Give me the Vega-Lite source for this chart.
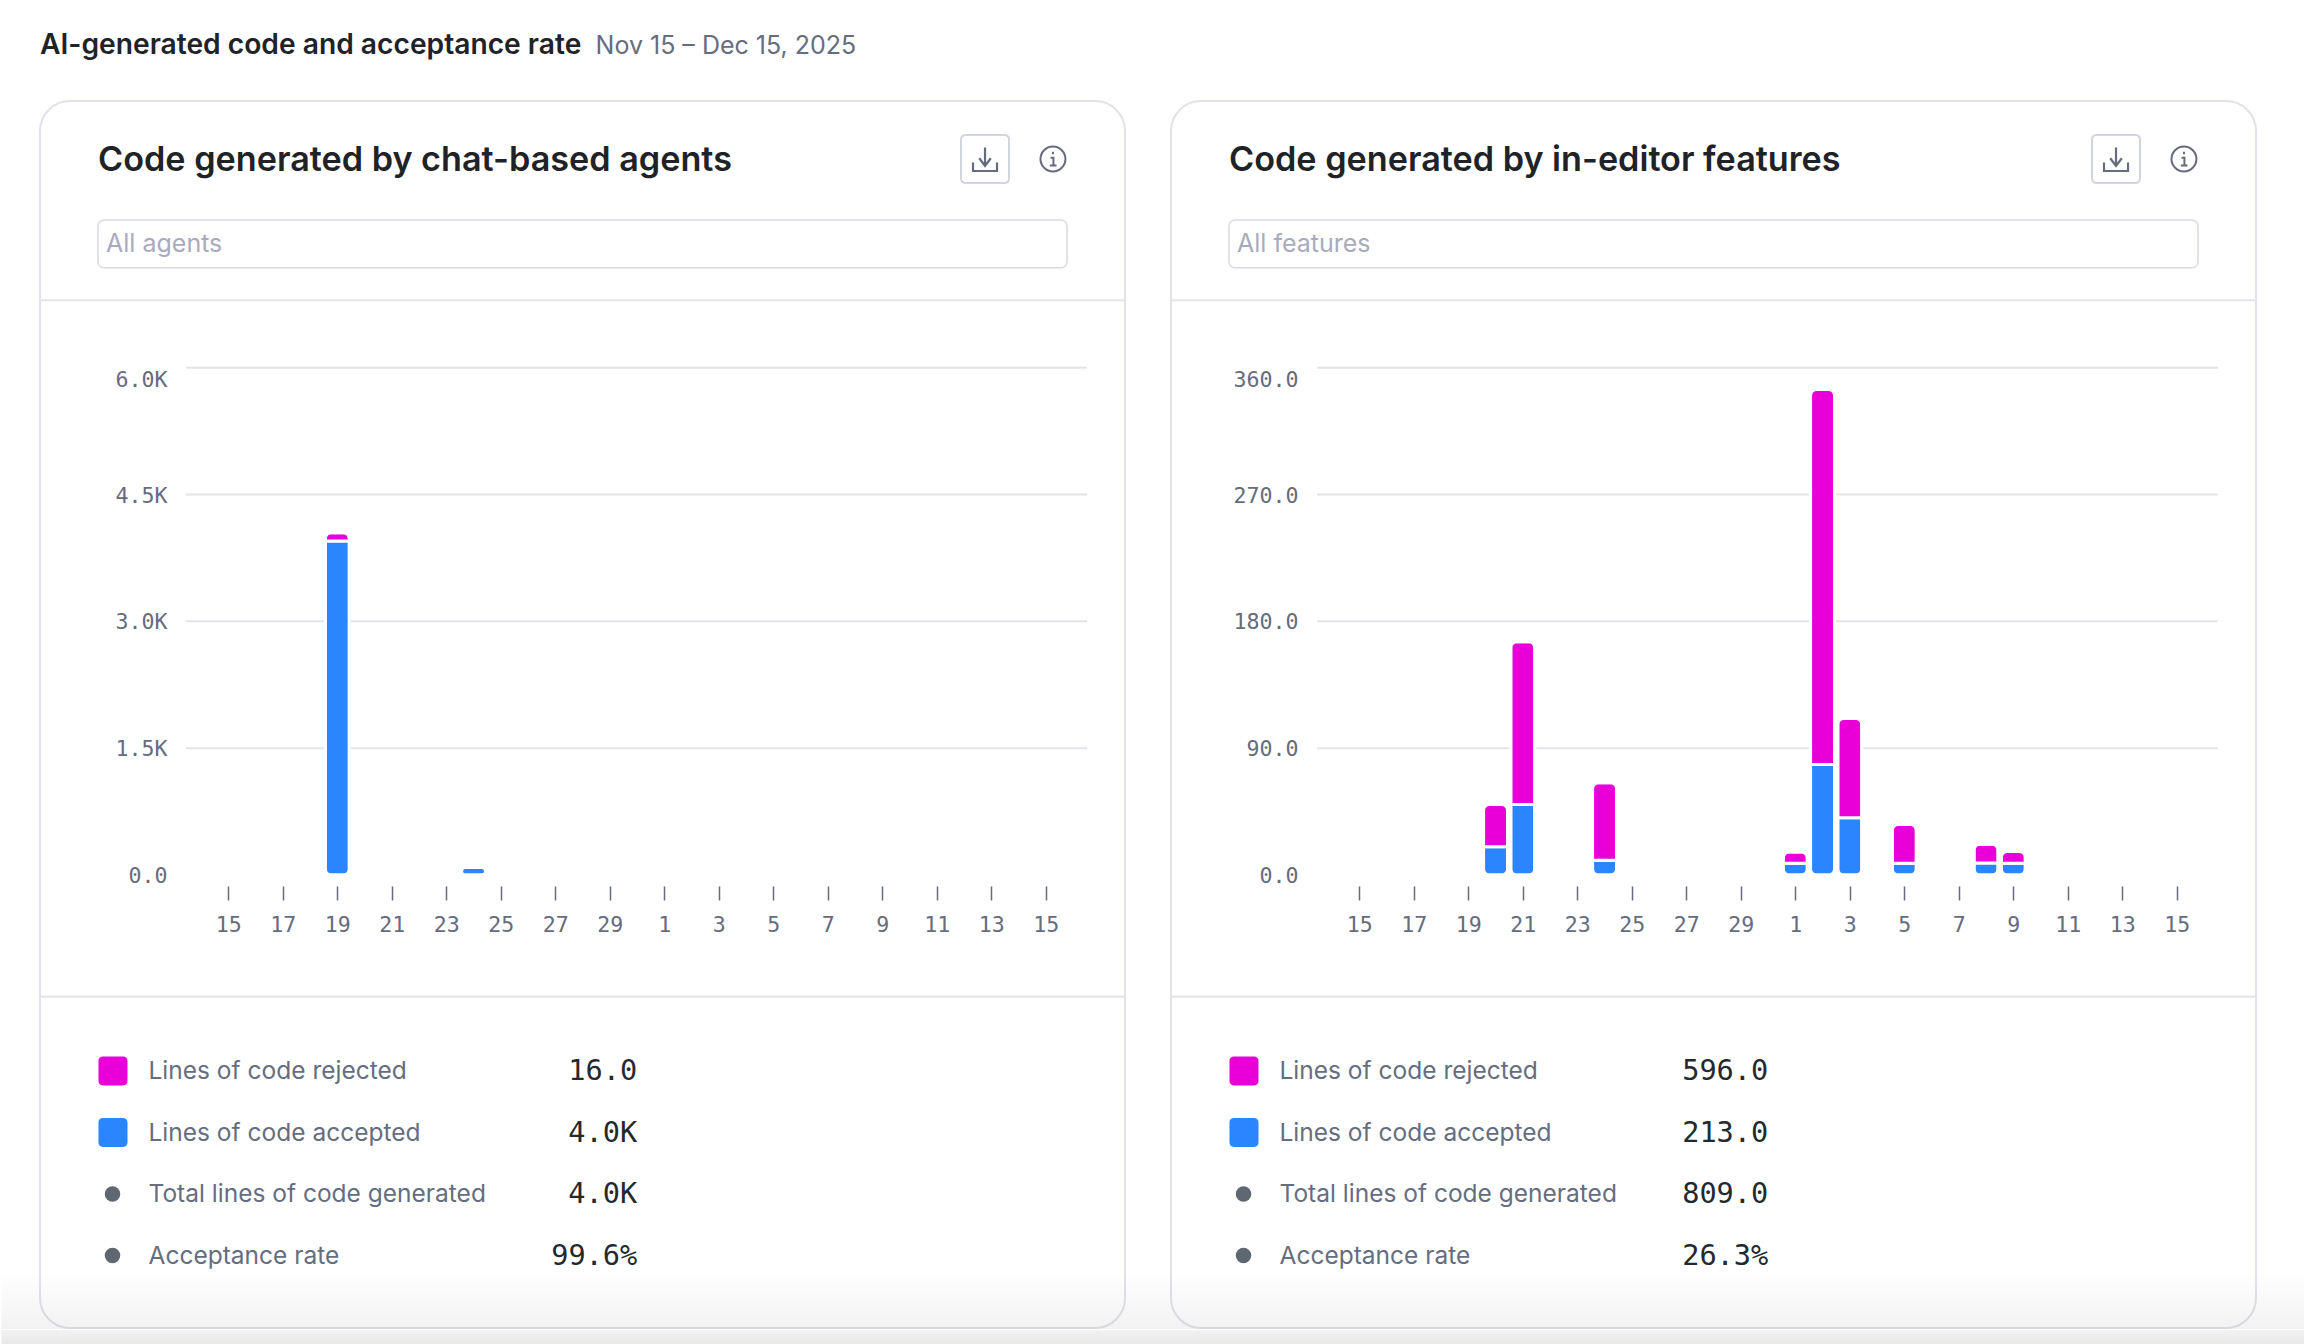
{"$schema":"https://vega.github.io/schema/vega-lite/v6.json","padding":0,"background":"#ffffff","config":{"font":"Inter","view":{"stroke":null}},"datasets":{"grid1":[{"value":6000,"from":"2025-11-13T10:48:00Z","to":"2025-12-16T12:14:00Z"},{"value":4500,"from":"2025-11-13T10:48:00Z","to":"2025-12-16T12:14:00Z"},{"value":3000,"from":"2025-11-13T10:48:00Z","to":"2025-12-16T12:14:00Z"},{"value":1500,"from":"2025-11-13T10:48:00Z","to":"2025-12-16T12:14:00Z"}],"grid2":[{"value":360,"from":"2025-11-13T10:48:00Z","to":"2025-12-16T12:14:00Z"},{"value":270,"from":"2025-11-13T10:48:00Z","to":"2025-12-16T12:14:00Z"},{"value":180,"from":"2025-11-13T10:48:00Z","to":"2025-12-16T12:14:00Z"},{"value":90,"from":"2025-11-13T10:48:00Z","to":"2025-12-16T12:14:00Z"}],"bars1":[{"date":"2025-11-19T00:00:00Z","series":"Lines of code accepted","lines":3950},{"date":"2025-11-19T00:00:00Z","series":"Lines of code rejected","lines":98},{"date":"2025-11-24T00:00:00Z","series":"Lines of code accepted","lines":89}],"bars2":[{"date":"2025-11-20T00:00:00Z","series":"Lines of code accepted","lines":20},{"date":"2025-11-20T00:00:00Z","series":"Lines of code rejected","lines":30},{"date":"2025-11-21T00:00:00Z","series":"Lines of code accepted","lines":50},{"date":"2025-11-21T00:00:00Z","series":"Lines of code rejected","lines":115.5},{"date":"2025-11-24T00:00:00Z","series":"Lines of code accepted","lines":10.5},{"date":"2025-11-24T00:00:00Z","series":"Lines of code rejected","lines":55},{"date":"2025-12-01T00:00:00Z","series":"Lines of code accepted","lines":8.3},{"date":"2025-12-01T00:00:00Z","series":"Lines of code rejected","lines":8},{"date":"2025-12-02T00:00:00Z","series":"Lines of code accepted","lines":78.5},{"date":"2025-12-02T00:00:00Z","series":"Lines of code rejected","lines":266},{"date":"2025-12-03T00:00:00Z","series":"Lines of code accepted","lines":40.6},{"date":"2025-12-03T00:00:00Z","series":"Lines of code rejected","lines":70.5},{"date":"2025-12-05T00:00:00Z","series":"Lines of code accepted","lines":8.3},{"date":"2025-12-05T00:00:00Z","series":"Lines of code rejected","lines":27.5},{"date":"2025-12-08T00:00:00Z","series":"Lines of code accepted","lines":8.5},{"date":"2025-12-08T00:00:00Z","series":"Lines of code rejected","lines":13.4},{"date":"2025-12-09T00:00:00Z","series":"Lines of code accepted","lines":8.3},{"date":"2025-12-09T00:00:00Z","series":"Lines of code rejected","lines":8.4}],"table1":[{"row":1,"series":"Lines of code rejected","shown":"16.0"},{"row":2,"series":"Lines of code accepted","shown":"4.0K"},{"row":3,"series":"Total lines of code generated","shown":"4.0K"},{"row":4,"series":"Acceptance rate","shown":"99.6%"}],"table2":[{"row":1,"series":"Lines of code rejected","shown":"596.0"},{"row":2,"series":"Lines of code accepted","shown":"213.0"},{"row":3,"series":"Total lines of code generated","shown":"809.0"},{"row":4,"series":"Acceptance rate","shown":"26.3%"}]},"spacing":0,"vconcat":[{"width":2224,"height":100,"data":{"values":[{"heading":"AI-generated code and acceptance rate","period":"Nov 15 – Dec 15, 2025"}]},"layer":[{"mark":{"type":"text","align":"left","baseline":"middle","fontSize":28.2,"fontWeight":600,"color":"#1f2328"},"encoding":{"text":{"field":"heading"},"x":{"datum":0,"type":"quantitative","scale":{"domain":[0,1],"range":[0,2224]},"axis":null},"y":{"datum":0.455,"type":"quantitative","scale":{"domain":[0,1],"range":[0,100]},"axis":null}}},{"mark":{"type":"text","align":"left","baseline":"middle","fontSize":25,"fontWeight":400,"color":"#656d80"},"encoding":{"text":{"field":"period"},"x":{"datum":0.2498,"type":"quantitative","scale":{"domain":[0,1],"range":[0,2224]},"axis":null},"y":{"datum":0.455,"type":"quantitative","scale":{"domain":[0,1],"range":[0,100]},"axis":null}}}]},{"spacing":46,"bounds":"flush","hconcat":[{"width":1085,"height":1227,"view":{"stroke":"#e2e3ea","strokeWidth":2,"cornerRadius":30,"fill":"#ffffff"},"resolve":{"scale":{"x":"independent","y":"independent","color":"independent"}},"layer":[{"layer":[{"data":{"name":"grid1"},"mark":{"type":"rule","color":"#e3e4ea","strokeWidth":2},"encoding":{"y":{"field":"value","type":"quantitative","scale":{"domain":[0,6000],"range":[774,266.7],"nice":false},"axis":{"values":[0,1500,3000,4500,6000],"labelExpr":"datum.value === 0 ? '0.0' : format(datum.value / 1000, '.1f') + 'K'","title":null,"domain":false,"ticks":false,"grid":false,"offset":-127,"labelPadding":0,"labelOffset":1.5,"labelFont":"DejaVu Sans Mono","labelFontSize":21.6,"labelColor":"#666b7d","labelOverlap":false,"labelFlush":false,"labelBaseline":{"condition":{"test":"datum.value === 6000","value":"top"},"value":"middle"}}},"x":{"field":"from","type":"temporal","scale":{"type":"utc","domain":["2025-11-15T00:00:00Z","2025-12-15T00:00:00Z"],"range":[188.3,1005.8],"nice":false,"padding":0},"axis":{"values":["2025-11-15T00:00:00Z","2025-11-17T00:00:00Z","2025-11-19T00:00:00Z","2025-11-21T00:00:00Z","2025-11-23T00:00:00Z","2025-11-25T00:00:00Z","2025-11-27T00:00:00Z","2025-11-29T00:00:00Z","2025-12-01T00:00:00Z","2025-12-03T00:00:00Z","2025-12-05T00:00:00Z","2025-12-07T00:00:00Z","2025-12-09T00:00:00Z","2025-12-11T00:00:00Z","2025-12-13T00:00:00Z","2025-12-15T00:00:00Z"],"format":"%-d","title":null,"domain":false,"grid":false,"offset":-442,"tickSize":14,"tickWidth":1.5,"tickColor":"#666b7d","labelFont":"DejaVu Sans Mono","labelFontSize":21.6,"labelColor":"#666b7d","labelPadding":14,"labelOverlap":false,"labelFlush":false}},"x2":{"field":"to"}}},{"data":{"name":"bars1"},"mark":{"type":"bar","size":24,"cornerRadius":6,"stroke":"#ffffff","strokeWidth":3},"encoding":{"x":{"field":"date","type":"temporal"},"y":{"field":"lines","type":"quantitative","stack":"zero"},"color":{"field":"series","type":"nominal","legend":null,"scale":{"domain":["Lines of code rejected","Lines of code accepted"],"range":["#e900d8","#2b85ff"]}},"order":{"field":"series","type":"nominal"}}}]},{"data":{"values":[{"cardTitle":"Code generated by chat-based agents","filter":"All agents"}]},"layer":[{"mark":{"type":"text","align":"left","baseline":"middle","fontSize":34.2,"fontWeight":600,"color":"#1f2328"},"encoding":{"text":{"field":"cardTitle"},"x":{"datum":0,"type":"quantitative","scale":{"domain":[0,1],"range":[58,1027]},"axis":null},"y":{"datum":0.0485,"type":"quantitative","scale":{"domain":[0,1],"range":[0,1227]},"axis":null}}},{"mark":{"type":"rect","fill":"#ffffff","stroke":"#d9dae2","strokeWidth":1.5,"cornerRadius":6},"encoding":{"x":{"datum":0,"type":"quantitative"},"x2":{"datum":1},"y":{"datum":0.09698,"type":"quantitative"},"y2":{"datum":0.13586}}},{"mark":{"type":"text","align":"left","baseline":"middle","fontSize":25,"color":"#a9abbd"},"encoding":{"text":{"field":"filter"},"x":{"datum":0.0083,"type":"quantitative"},"y":{"datum":0.11654,"type":"quantitative"}}},{"mark":{"type":"rule","color":"#e3e4ea","strokeWidth":2},"encoding":{"y":{"datum":0.16243,"type":"quantitative"}}},{"mark":{"type":"rule","color":"#e3e4ea","strokeWidth":2},"encoding":{"y":{"datum":0.72999,"type":"quantitative"}}},{"mark":{"type":"point","filled":false,"size":2304,"opacity":1,"stroke":"#d3d5de","strokeWidth":2,"shape":"M-0.8,-1 H0.8 Q1,-1 1,-0.8 V0.8 Q1,1 0.8,1 H-0.8 Q-1,1 -1,0.8 V-0.8 Q-1,-1 -0.8,-1 Z"},"encoding":{"x":{"datum":0.9154,"type":"quantitative"},"y":{"datum":0.04727,"type":"quantitative"}}},{"mark":{"type":"point","filled":false,"size":2304,"opacity":1,"stroke":"#666b7d","strokeWidth":2.2,"shape":"M0,-0.48 V0.29 M-0.24,-0.03 L0,0.29 L0.24,-0.03 M-0.5,0.15 V0.5 H0.5 V0.15"},"encoding":{"x":{"datum":0.9154,"type":"quantitative"},"y":{"datum":0.04727,"type":"quantitative"}}},{"mark":{"type":"point","filled":false,"size":2304,"opacity":1,"stroke":"#666b7d","strokeWidth":2,"shape":"M-0.52,0 A0.52,0.52 0 1 0 0.52,0 A0.52,0.52 0 1 0 -0.52,0 Z M0,-0.3 V-0.2 M-0.1,-0.05 H0.02 V0.27 M-0.13,0.27 H0.15"},"encoding":{"x":{"datum":0.9855,"type":"quantitative"},"y":{"datum":0.04727,"type":"quantitative"}}}]},{"data":{"name":"table1"},"layer":[{"transform":[{"filter":"datum.row <= 2"}],"mark":{"type":"point","filled":true,"opacity":1,"size":841,"shape":"M-0.68,-1 H0.68 Q1,-1 1,-0.68 V0.68 Q1,1 0.68,1 H-0.68 Q-1,1 -1,0.68 V-0.68 Q-1,-1 -0.68,-1 Z"},"encoding":{"x":{"datum":74,"type":"quantitative","scale":{"domain":[0,1085],"range":[0,1085]},"axis":null},"y":{"field":"row","type":"quantitative","scale":{"domain":[1,4],"range":[970,1154.5],"nice":false,"zero":false},"axis":null},"color":{"field":"series","type":"nominal","legend":null,"scale":{"domain":["Lines of code rejected","Lines of code accepted"],"range":["#e900d8","#2b85ff"]}}}},{"transform":[{"filter":"datum.row > 2"}],"mark":{"type":"point","filled":true,"opacity":1,"size":240,"shape":"circle","color":"#5f6870"},"encoding":{"x":{"datum":73.5,"type":"quantitative"},"y":{"field":"row","type":"quantitative"}}},{"mark":{"type":"text","align":"left","baseline":"middle","fontSize":24.5,"dy":1,"color":"#656d80"},"encoding":{"text":{"field":"series"},"x":{"datum":110,"type":"quantitative"},"y":{"field":"row","type":"quantitative"}}},{"mark":{"type":"text","align":"right","baseline":"middle","font":"DejaVu Sans Mono","fontSize":28.6,"color":"#24292f"},"encoding":{"text":{"field":"shown"},"x":{"datum":605.5,"type":"quantitative"},"y":{"field":"row","type":"quantitative"}}}]},{"data":{"values":[{"overlay":"page fade"}]},"mark":{"type":"rect","fill":{"gradient":"linear","x1":0,"y1":0,"x2":0,"y2":1,"stops":[{"offset":0,"color":"rgba(0,0,0,0)"},{"offset":1,"color":"rgba(0,0,0,0.05)"}]}},"encoding":{"x":{"datum":0,"type":"quantitative","scale":{"domain":[0,1],"range":[-38.5,1108]},"axis":null},"x2":{"datum":1},"y":{"datum":0,"type":"quantitative","scale":{"domain":[0,1],"range":[1170,1228]},"axis":null},"y2":{"datum":1}}}]},{"width":1085,"height":1227,"view":{"stroke":"#e2e3ea","strokeWidth":2,"cornerRadius":30,"fill":"#ffffff"},"resolve":{"scale":{"x":"independent","y":"independent","color":"independent"}},"layer":[{"layer":[{"data":{"name":"grid2"},"mark":{"type":"rule","color":"#e3e4ea","strokeWidth":2},"encoding":{"y":{"field":"value","type":"quantitative","scale":{"domain":[0,360],"range":[774,266.7],"nice":false},"axis":{"values":[0,90,180,270,360],"format":".1f","title":null,"domain":false,"ticks":false,"grid":false,"offset":-127,"labelPadding":0,"labelOffset":1.5,"labelFont":"DejaVu Sans Mono","labelFontSize":21.6,"labelColor":"#666b7d","labelOverlap":false,"labelFlush":false,"labelBaseline":{"condition":{"test":"datum.value === 360","value":"top"},"value":"middle"}}},"x":{"field":"from","type":"temporal","scale":{"type":"utc","domain":["2025-11-15T00:00:00Z","2025-12-15T00:00:00Z"],"range":[188.3,1005.8],"nice":false,"padding":0},"axis":{"values":["2025-11-15T00:00:00Z","2025-11-17T00:00:00Z","2025-11-19T00:00:00Z","2025-11-21T00:00:00Z","2025-11-23T00:00:00Z","2025-11-25T00:00:00Z","2025-11-27T00:00:00Z","2025-11-29T00:00:00Z","2025-12-01T00:00:00Z","2025-12-03T00:00:00Z","2025-12-05T00:00:00Z","2025-12-07T00:00:00Z","2025-12-09T00:00:00Z","2025-12-11T00:00:00Z","2025-12-13T00:00:00Z","2025-12-15T00:00:00Z"],"format":"%-d","title":null,"domain":false,"grid":false,"offset":-442,"tickSize":14,"tickWidth":1.5,"tickColor":"#666b7d","labelFont":"DejaVu Sans Mono","labelFontSize":21.6,"labelColor":"#666b7d","labelPadding":14,"labelOverlap":false,"labelFlush":false}},"x2":{"field":"to"}}},{"data":{"name":"bars2"},"mark":{"type":"bar","size":24,"cornerRadius":6,"stroke":"#ffffff","strokeWidth":3},"encoding":{"x":{"field":"date","type":"temporal"},"y":{"field":"lines","type":"quantitative","stack":"zero"},"color":{"field":"series","type":"nominal","legend":null,"scale":{"domain":["Lines of code rejected","Lines of code accepted"],"range":["#e900d8","#2b85ff"]}},"order":{"field":"series","type":"nominal"}}}]},{"data":{"values":[{"cardTitle":"Code generated by in-editor features","filter":"All features"}]},"layer":[{"mark":{"type":"text","align":"left","baseline":"middle","fontSize":34.2,"fontWeight":600,"color":"#1f2328"},"encoding":{"text":{"field":"cardTitle"},"x":{"datum":0,"type":"quantitative","scale":{"domain":[0,1],"range":[58,1027]},"axis":null},"y":{"datum":0.0485,"type":"quantitative","scale":{"domain":[0,1],"range":[0,1227]},"axis":null}}},{"mark":{"type":"rect","fill":"#ffffff","stroke":"#d9dae2","strokeWidth":1.5,"cornerRadius":6},"encoding":{"x":{"datum":0,"type":"quantitative"},"x2":{"datum":1},"y":{"datum":0.09698,"type":"quantitative"},"y2":{"datum":0.13586}}},{"mark":{"type":"text","align":"left","baseline":"middle","fontSize":25,"color":"#a9abbd"},"encoding":{"text":{"field":"filter"},"x":{"datum":0.0083,"type":"quantitative"},"y":{"datum":0.11654,"type":"quantitative"}}},{"mark":{"type":"rule","color":"#e3e4ea","strokeWidth":2},"encoding":{"y":{"datum":0.16243,"type":"quantitative"}}},{"mark":{"type":"rule","color":"#e3e4ea","strokeWidth":2},"encoding":{"y":{"datum":0.72999,"type":"quantitative"}}},{"mark":{"type":"point","filled":false,"size":2304,"opacity":1,"stroke":"#d3d5de","strokeWidth":2,"shape":"M-0.8,-1 H0.8 Q1,-1 1,-0.8 V0.8 Q1,1 0.8,1 H-0.8 Q-1,1 -1,0.8 V-0.8 Q-1,-1 -0.8,-1 Z"},"encoding":{"x":{"datum":0.9154,"type":"quantitative"},"y":{"datum":0.04727,"type":"quantitative"}}},{"mark":{"type":"point","filled":false,"size":2304,"opacity":1,"stroke":"#666b7d","strokeWidth":2.2,"shape":"M0,-0.48 V0.29 M-0.24,-0.03 L0,0.29 L0.24,-0.03 M-0.5,0.15 V0.5 H0.5 V0.15"},"encoding":{"x":{"datum":0.9154,"type":"quantitative"},"y":{"datum":0.04727,"type":"quantitative"}}},{"mark":{"type":"point","filled":false,"size":2304,"opacity":1,"stroke":"#666b7d","strokeWidth":2,"shape":"M-0.52,0 A0.52,0.52 0 1 0 0.52,0 A0.52,0.52 0 1 0 -0.52,0 Z M0,-0.3 V-0.2 M-0.1,-0.05 H0.02 V0.27 M-0.13,0.27 H0.15"},"encoding":{"x":{"datum":0.9855,"type":"quantitative"},"y":{"datum":0.04727,"type":"quantitative"}}}]},{"data":{"name":"table2"},"layer":[{"transform":[{"filter":"datum.row <= 2"}],"mark":{"type":"point","filled":true,"opacity":1,"size":841,"shape":"M-0.68,-1 H0.68 Q1,-1 1,-0.68 V0.68 Q1,1 0.68,1 H-0.68 Q-1,1 -1,0.68 V-0.68 Q-1,-1 -0.68,-1 Z"},"encoding":{"x":{"datum":74,"type":"quantitative","scale":{"domain":[0,1085],"range":[0,1085]},"axis":null},"y":{"field":"row","type":"quantitative","scale":{"domain":[1,4],"range":[970,1154.5],"nice":false,"zero":false},"axis":null},"color":{"field":"series","type":"nominal","legend":null,"scale":{"domain":["Lines of code rejected","Lines of code accepted"],"range":["#e900d8","#2b85ff"]}}}},{"transform":[{"filter":"datum.row > 2"}],"mark":{"type":"point","filled":true,"opacity":1,"size":240,"shape":"circle","color":"#5f6870"},"encoding":{"x":{"datum":73.5,"type":"quantitative"},"y":{"field":"row","type":"quantitative"}}},{"mark":{"type":"text","align":"left","baseline":"middle","fontSize":24.5,"dy":1,"color":"#656d80"},"encoding":{"text":{"field":"series"},"x":{"datum":110,"type":"quantitative"},"y":{"field":"row","type":"quantitative"}}},{"mark":{"type":"text","align":"right","baseline":"middle","font":"DejaVu Sans Mono","fontSize":28.6,"color":"#24292f"},"encoding":{"text":{"field":"shown"},"x":{"datum":605.5,"type":"quantitative"},"y":{"field":"row","type":"quantitative"}}}]},{"data":{"values":[{"overlay":"page fade"}]},"mark":{"type":"rect","fill":{"gradient":"linear","x1":0,"y1":0,"x2":0,"y2":1,"stops":[{"offset":0,"color":"rgba(0,0,0,0)"},{"offset":1,"color":"rgba(0,0,0,0.05)"}]}},"encoding":{"x":{"datum":0,"type":"quantitative","scale":{"domain":[0,1],"range":[-23,1134]},"axis":null},"x2":{"datum":1},"y":{"datum":0,"type":"quantitative","scale":{"domain":[0,1],"range":[1170,1228]},"axis":null},"y2":{"datum":1}}}]}]},{"width":2224,"height":17,"data":{"values":[{"overlay":"page fade"}]},"mark":{"type":"rect","fill":{"gradient":"linear","x1":0,"y1":0,"x2":0,"y2":1,"stops":[{"offset":0,"color":"rgba(0,0,0,0.05)"},{"offset":1,"color":"rgba(0,0,0,0.1)"}]}},"encoding":{"x":{"datum":0,"type":"quantitative","scale":{"domain":[0,1],"range":[-38.5,2265.5]},"axis":null},"x2":{"datum":1}}}]}
